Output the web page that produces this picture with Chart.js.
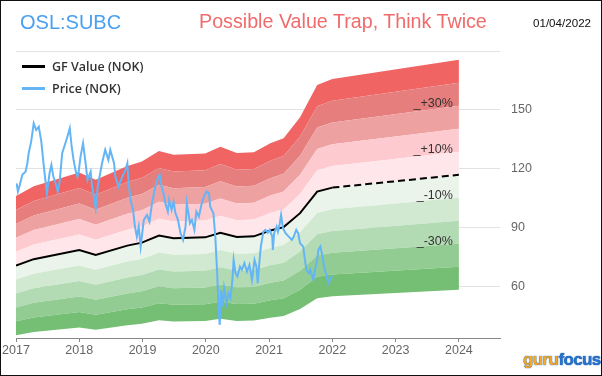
<!DOCTYPE html>
<html lang="en">
  <head>
    <meta charset="UTF-8" />
    <title>OSL:SUBC GF Value</title>
    <style>
      body {
        margin: 0;
        background: #fff;
      }
      #wrap {
        position: relative;
        width: 602px;
        height: 376px;
        font-family: "Liberation Sans", Arial, sans-serif;
      }
      #frame {
        position: absolute;
        left: 0;
        top: 0;
        width: 602px;
        height: 376px;
        box-sizing: border-box;
        border: 1px solid #111;
        pointer-events: none;
      }
      .txt {
        position: absolute;
        white-space: nowrap;
        line-height: 1;
      }
      .legend-item {
        position: absolute;
        left: 22px;
        display: flex;
        align-items: center;
        font-family: "Open Sans", sans-serif;
        font-weight: 600;
        font-size: 12.5px;
        color: #333;
      }
      .legend-line {
        width: 23px;
        height: 2.5px;
        margin-right: 7px;
      }
    </style>
  </head>
  <body>
    <div id="wrap">
      <canvas id="myChart" width="602" height="376"></canvas>
      <div class="txt" style="left: 20px; top: 12px; font-size: 20px; color: #4a9ff0">OSL:SUBC</div>
      <div class="txt" style="left: 199px; top: 12px; font-size: 19.7px; color: #f06b6b">Possible Value Trap, Think Twice</div>
      <div class="txt" style="left: 533px; top: 17px; font-size: 11.6px; color: #111">01/04/2022</div>
      <div class="legend-item" style="top: 58px"><div class="legend-line" style="background: #000"></div>GF Value (NOK)</div>
      <div class="legend-item" style="top: 80px"><div class="legend-line" style="background: #64b5f6"></div>Price (NOK)</div>
      <div class="txt" style="left: 523px; top: 351px; font-family: 'Liberation Sans', Arial; font-weight: 900; font-size: 17px; letter-spacing: -0.6px; text-shadow: 0 0 1px #1b5fae, 0 0 1px #1b5fae">
        <span style="color: #f7a823">guru</span><span style="color: #2a73c9">focus</span>
      </div>
      <div id="frame"></div>
    </div>

    <script src="https://cdn.jsdelivr.net/npm/chart.js"></script>
    <script>
      // GF Value line (decimal years), dashed after 2022
      const gfDates = [2017.0, 2017.28, 2018.0, 2018.26, 2018.76, 2018.99, 2019.26, 2019.49, 2019.99, 2020.23, 2020.49, 2020.76, 2021.02, 2021.23, 2021.49, 2021.76, 2022.0, 2024.0];
      const gfValues = [70.8, 74.1, 78.8, 76.3, 81.0, 82.5, 86.1, 84.8, 85.2, 87.5, 85.4, 85.7, 88.7, 90.4, 97.5, 108.5, 110.5, 117.0];

      const bandFactors = [0.5, 0.6, 0.7, 0.8, 0.9, 1.0, 1.1, 1.2, 1.3, 1.4, 1.5];
      const bandColors = ["#75bf75", "#92cc92", "#b3dbb3", "#d1e9d1", "#eaf4ea", "#ffe6ea", "#fdcad0", "#eea1a1", "#e67e7e", "#f06464"];
      const bandLabels = [
        { factor: 1.3, text: "_+30%" },
        { factor: 1.1, text: "_+10%" },
        { factor: 0.9, text: "_-10%" },
        { factor: 0.7, text: "_-30%" },
      ];

      const priceDates = [
        2017.01, 2017.03, 2017.06, 2017.1, 2017.15, 2017.18, 2017.2, 2017.24, 2017.28, 2017.32, 2017.36, 2017.4, 2017.44, 2017.47, 2017.49,
        2017.53, 2017.56, 2017.59, 2017.62, 2017.66, 2017.69, 2017.73, 2017.78, 2017.82, 2017.85, 2017.88, 2017.91, 2017.94, 2017.97, 2017.99,
        2018.02, 2018.06, 2018.1, 2018.13, 2018.18, 2018.2, 2018.26, 2018.29, 2018.31, 2018.36, 2018.41, 2018.46, 2018.49, 2018.55, 2018.57,
        2018.62, 2018.68, 2018.73, 2018.76, 2018.78, 2018.81, 2018.85, 2018.88, 2018.91, 2018.94, 2018.97, 2019.02, 2019.07, 2019.11, 2019.15,
        2019.19, 2019.23, 2019.27, 2019.3, 2019.33, 2019.36, 2019.4, 2019.42, 2019.46, 2019.49, 2019.52, 2019.56, 2019.6, 2019.64, 2019.68,
        2019.7, 2019.75, 2019.78, 2019.82, 2019.85, 2019.89, 2019.93, 2019.97, 2020.01, 2020.05, 2020.07, 2020.12, 2020.15, 2020.18, 2020.2,
        2020.22, 2020.24, 2020.27, 2020.29, 2020.33, 2020.36, 2020.39, 2020.42, 2020.44, 2020.47, 2020.5, 2020.54, 2020.57, 2020.61, 2020.65,
        2020.69, 2020.73, 2020.77, 2020.8, 2020.82, 2020.85, 2020.87, 2020.91, 2020.94, 2020.98, 2021.01, 2021.05, 2021.06, 2021.08, 2021.12,
        2021.14, 2021.17, 2021.19, 2021.22, 2021.26, 2021.31, 2021.36, 2021.39, 2021.43, 2021.46, 2021.49, 2021.54, 2021.56, 2021.59, 2021.63,
        2021.65, 2021.7, 2021.72, 2021.76, 2021.78, 2021.81, 2021.84, 2021.87, 2021.91, 2021.94, 2021.97, 2022.0,
      ];
      const priceValues = [
        112.7, 108.5, 111.9, 117.0, 118.6, 122.9, 128.0, 133.9, 143.2, 139.8, 141.5, 133.9, 121.2, 112.7, 107.7,
        117.8, 122.0, 116.1, 113.5, 108.5, 113.5, 128.0, 133.1, 137.3, 140.7, 131.3, 124.6, 119.5, 116.1, 118.6,
        126.3, 133.1, 122.9, 114.4, 118.6, 111.9, 100.0, 110.2, 114.4, 122.9, 129.7, 124.6, 129.7, 122.9, 116.1,
        111.0, 116.1, 119.5, 122.9, 112.7, 104.2, 99.2, 90.7, 85.6, 90.7, 80.5, 94.1, 96.6, 93.2, 102.6,
        109.3, 114.4, 117.0, 111.0, 107.7, 102.6, 98.3, 104.2, 99.2, 103.4, 97.5, 94.1, 87.3, 83.9, 90.7,
        102.6, 92.4, 94.1, 89.0, 98.3, 95.8, 101.7, 105.9, 108.5, 107.7, 100.8, 97.5, 85.6, 67.0, 50.0,
        40.7, 58.5, 50.0, 59.4, 51.7, 56.8, 54.3, 63.6, 73.7, 67.0, 65.3, 70.3, 68.7, 72.1, 67.8,
        71.2, 63.6, 73.7, 70.3, 61.9, 73.7, 80.5, 88.1, 89.0, 87.6, 89.0, 85.6, 78.8, 87.3, 90.7,
        88.1, 92.4, 96.6, 89.9, 87.3, 85.6, 83.9, 85.6, 89.0, 87.3, 82.2, 80.5, 75.4, 68.7, 67.0,
        68.7, 63.6, 67.8, 73.7, 78.8, 80.5, 76.3, 70.3, 65.3, 61.9, 64.4, 65.6,
      ];

      const xTicks = [2017, 2018, 2019, 2020, 2021, 2022, 2023, 2024];
      const yTicks = [60, 90, 120, 150, 180];
      const xMin = 2017;
      const xMax = 2024.65;
      const yMin = 34;
      const yMax = 180;

      const toPoints = (xs, ys) => xs.map((x, i) => ({ x: x, y: ys[i] }));

      const bandDatasets = bandFactors.map((f, i) => ({
        label: "band" + f,
        data: toPoints(gfDates, gfValues.map((v) => v * f)),
        borderColor: "rgba(0,0,0,0)",
        borderWidth: 0,
        pointRadius: 0,
        fill: i === 0 ? false : "-1",
        backgroundColor: i === 0 ? "rgba(0,0,0,0)" : bandColors[i - 1],
        order: 2,
      }));

      const bandLabelPlugin = {
        id: "bandLabels",
        afterDatasetsDraw(chart) {
          const { ctx, scales } = chart;
          const lastX = gfDates[gfDates.length - 1];
          const lastV = gfValues[gfValues.length - 1];
          ctx.save();
          ctx.font = "12.5px 'Liberation Sans', Arial, sans-serif";
          ctx.fillStyle = "#333";
          ctx.textAlign = "right";
          ctx.textBaseline = "alphabetic";
          bandLabels.forEach((b) => {
            const px = scales.x.getPixelForValue(lastX) - 6;
            const py = scales.y.getPixelForValue(lastV * b.factor) + 1;
            ctx.fillText(b.text, px, py);
          });
          ctx.restore();
        },
      };

      new Chart(document.getElementById("myChart"), {
        type: "line",
        data: {
          datasets: [
            {
              label: "Price (NOK)",
              data: toPoints(priceDates, priceValues),
              borderColor: "#64b5f6",
              borderWidth: 2,
              pointRadius: 0,
              fill: false,
              order: 0,
            },
            {
              label: "GF Value (NOK)",
              data: toPoints(gfDates, gfValues),
              borderColor: "#000",
              borderWidth: 2,
              pointRadius: 0,
              fill: false,
              order: 1,
              segment: {
                borderDash: (c) => (c.p0.parsed.x >= 2022 ? [7, 4] : undefined),
              },
            },
            ...bandDatasets,
          ],
        },
        options: {
          responsive: false,
          animation: false,
          devicePixelRatio: 1,
          layout: { padding: { top: 51, left: 16, right: 0, bottom: 0 } },
          plugins: {
            legend: { display: false },
            tooltip: { enabled: false },
          },
          elements: { line: { tension: 0 } },
          scales: {
            x: {
              type: "linear",
              min: xMin,
              max: xMax,
              afterBuildTicks: (scale) => {
                scale.ticks = xTicks.map((v) => ({ value: v }));
              },
              afterFit: (scale) => {
                scale.height = 38;
              },
              ticks: {
                padding: 1,
                color: "#666",
                font: { family: "'Liberation Sans', Arial, sans-serif", size: 12.5 },
                callback: (v) => String(v),
              },
              grid: { drawOnChartArea: false, drawTicks: true, tickLength: 4, color: "#888" },
              border: { display: true, color: "#888" },
            },
            y: {
              position: "right",
              min: yMin,
              max: yMax,
              afterBuildTicks: (scale) => {
                scale.ticks = yTicks.map((v) => ({ value: v }));
              },
              afterFit: (scale) => {
                scale.width = 102;
              },
              ticks: {
                padding: 11,
                color: "#666",
                font: { family: "'Liberation Sans', Arial, sans-serif", size: 12.5 },
                callback: (v) => (v === yMax ? "" : String(v)),
              },
              grid: { color: "#e2e2e2", drawTicks: false },
              border: { display: false },
            },
          },
        },
        plugins: [bandLabelPlugin],
      });
    </script>
  </body>
</html>
